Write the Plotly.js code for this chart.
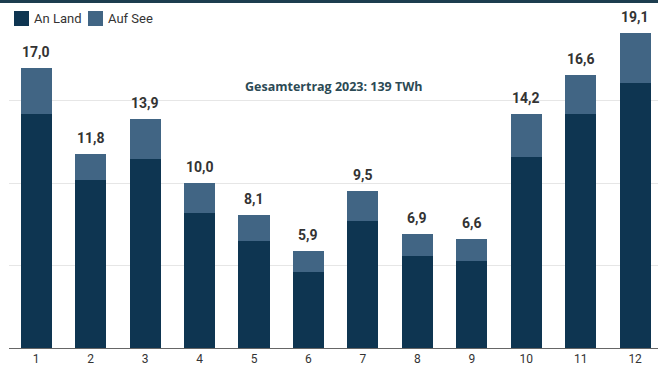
<!DOCTYPE html>
<html>
<head>
<meta charset="utf-8">
<script src="https://cdn.plot.ly/plotly-3.0.1.min.js"></script>
<style>
html,body{margin:0;padding:0;background:#fff;overflow:hidden;}
#chart{width:658px;height:365px;}
</style>
</head>
<body>
<div id="chart"></div>
<script>
// Monatlicher Windstromertrag 2023 (TWh)
const months = [1,2,3,4,5,6,7,8,9,10,11,12];
const anLand = [14.2,10.2,11.5,8.2,6.5,4.6,7.7,5.6,5.3,11.6,14.2,16.1];
const totals = [17.0,11.8,13.9,10.0,8.1,5.9,9.5,6.9,6.6,14.2,16.6,19.1];
const seriesNames = ['An Land','Auf See'];
const annotationText = 'Gesamtertrag 2023: 139 TWh';

const aufSee = totals.map((t,i) => Math.round((t - anLand[i])*10)/10);
const fmt = v => v.toFixed(1).replace('.', ',');

const colDark = '#0e3551';
const colLight = '#416584';
const colors = [colDark, colLight];

const W = 658, H = 365;
const M = {l:9, r:0, t:2, b:17};
const pw = W - M.l - M.r, ph = H - M.t - M.b;
const px2paper = px => (px - M.l) / pw;
const py2paper = py => (H - M.b - py) / ph;

const traces = [
  {type:'bar', x:months, y:anLand, name:seriesNames[0], marker:{color:colDark}, hoverinfo:'skip'},
  {type:'bar', x:months, y:aufSee, name:seriesNames[1], marker:{color:colLight}, hoverinfo:'skip'}
];

const annotations = months.map((m,i) => ({
  x:m, y:totals[i], xref:'x', yref:'y', text:fmt(totals[i]),
  showarrow:false, yanchor:'bottom', yshift:6,
  font:{family:'Roboto, sans-serif', size:14, color:'#333333', weight:700}
}));
annotations.push({
  x:0.5, xref:'paper', y:15.9, yref:'y', text:annotationText, showarrow:false,
  xanchor:'center', yanchor:'middle',
  font:{family:'"Open Sans", sans-serif', size:12.5, color:'#2c4a55', weight:700}
});

// custom legend (square swatches + labels)
const legendItems = [{sx:14, tx:32}, {sx:88, tx:106}];
const shapes = [];
legendItems.forEach((it, i) => {
  shapes.push({type:'rect', xref:'paper', yref:'paper',
    x0:px2paper(it.sx), x1:px2paper(it.sx+15), y0:py2paper(26), y1:py2paper(11),
    fillcolor:colors[i], line:{width:0}});
  annotations.push({x:px2paper(it.tx), y:py2paper(18.5), xref:'paper', yref:'paper',
    text:seriesNames[i], showarrow:false, xanchor:'left', yanchor:'middle',
    font:{family:'Roboto, sans-serif', size:13, color:'#333333'}});
});

const layout = {
  width:W, height:H,
  margin:M,
  paper_bgcolor:'#ffffff', plot_bgcolor:'#ffffff',
  barmode:'stack', bargap:0.43,
  font:{family:'Roboto, sans-serif', color:'#333333'},
  showlegend:false,
  xaxis:{range:[0.5,12.42], tickvals:months, ticktext:months.map(String),
         showgrid:false, zeroline:false, showline:true, linecolor:'#666666', linewidth:1,
         ticks:'', tickfont:{family:'Roboto, sans-serif', size:12, color:'#333333'}, fixedrange:true},
  yaxis:{range:[0,21], tickvals:[5,10,15], showticklabels:false, showgrid:true,
         gridcolor:'#e6e6e6', gridwidth:1, zeroline:false, showline:false, fixedrange:true},
  annotations:annotations,
  shapes:shapes
};

Plotly.newPlot('chart', traces, layout, {displayModeBar:false, staticPlot:true});
</script>
<div style="position:absolute;left:0;top:0;width:658px;height:3px;background:#1d3d4f;"></div>
</body>
</html>
